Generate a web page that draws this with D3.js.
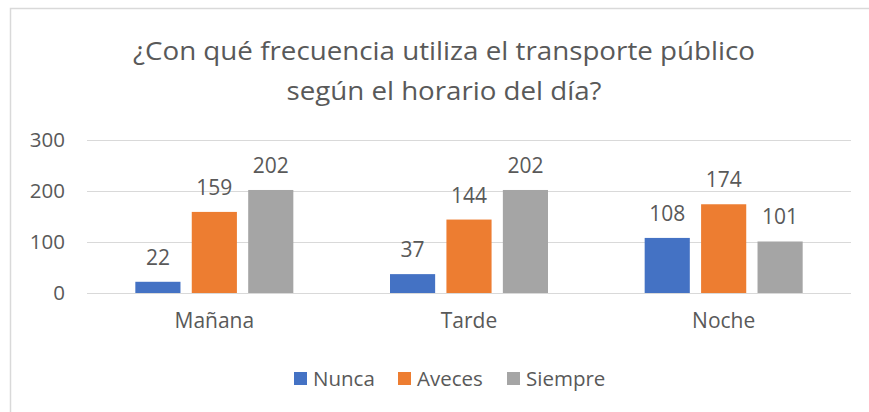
<!DOCTYPE html>
<html lang="es">
<head>
    <meta charset="UTF-8">
    <title>Frecuencia transporte público</title>
    <script src="https://cdn.jsdelivr.net/npm/d3@7"></script>
    <style>
        body {margin: 0; background: #fff;}
        text {font-family: "Open Sans", sans-serif; fill: #595959;}
    </style>
</head>
<body>
<div id="grafico"></div>
<script>
    // datos del gráfico
    const categorias = ["Mañana", "Tarde", "Noche"];
    const series = ["Nunca", "Aveces", "Siempre"];
    const nunca = [22, 37, 108];
    const aveces = [159, 144, 174];
    const siempre = [202, 202, 101];
    const ticksY = [0, 100, 200, 300];
    const titulo = ["¿Con qué frecuencia utiliza el transporte público", "según el horario del día?"];
    const colores = ["#4472C4", "#ED7D31", "#A5A5A5"];

    const valores = [nunca, aveces, siempre];

    let W = 869, H = 412;
    let margin = {top: 140, right: 18, bottom: 119, left: 87},
        width = W - margin.left - margin.right,
        height = H - margin.top - margin.bottom;

    let svg = d3.select("#grafico")
        .append("svg")
        .attr("width", W)
        .attr("height", H);

    // marco del gráfico
    svg.append("rect")
        .attr("x", 10.5).attr("y", 8.5)
        .attr("width", W + 20).attr("height", H + 20)
        .attr("fill", "none")
        .attr("stroke", "#D9D9D9")
        .attr("stroke-width", 1.5);

    // título (ancho ajustado al original)
    let anchoTitulo = [622, 315];
    svg.append("g").selectAll("text")
        .data(titulo)
        .join("text")
        .attr("x", 444)
        .attr("y", (d, i) => 60 + i * 40)
        .attr("text-anchor", "middle")
        .attr("font-size", 25.5)
        .attr("textLength", (d, i) => anchoTitulo[i])
        .attr("lengthAdjust", "spacingAndGlyphs")
        .text(d => d);

    let g = svg.append("g")
        .attr("transform", "translate(" + margin.left + "," + margin.top + ")");

    let x0 = d3.scaleBand()
        .domain(categorias)
        .range([0, width]);

    let x1 = d3.scaleBand()
        .domain(series)
        .range([0, 158])
        .paddingInner(0.2);

    let y = d3.scaleLinear()
        .domain([0, 300])
        .range([height, 0]);

    // líneas de cuadrícula
    g.append("g").selectAll("line")
        .data(ticksY)
        .join("line")
        .attr("x1", 0).attr("x2", width)
        .attr("y1", d => Math.round(y(d)) + 0.5)
        .attr("y2", d => Math.round(y(d)) + 0.5)
        .attr("stroke", "#D9D9D9")
        .attr("stroke-width", 1.2);

    // eje Y
    let ejeY = g.append("g")
        .call(d3.axisLeft(y).tickValues(ticksY).tickSize(0).tickPadding(22));
    ejeY.select(".domain").remove();
    ejeY.selectAll("text").attr("font-size", 20.5).attr("font-family", "'Open Sans', sans-serif").attr("fill", "#595959");

    // eje X
    let ejeX = g.append("g")
        .attr("transform", "translate(0," + height + ")")
        .call(d3.axisBottom(x0).tickSize(0).tickPadding(20));
    ejeX.select(".domain").remove();
    ejeX.selectAll("text").attr("font-size", 21).attr("font-family", "'Open Sans', sans-serif").attr("fill", "#595959");

    // barras
    let grupos = g.append("g").selectAll("g")
        .data(categorias)
        .join("g")
        .attr("transform", d => "translate(" + (x0(d) + x0.bandwidth() / 2 - 79) + ",0)");

    grupos.selectAll("rect")
        .data((c, i) => series.map((s, j) => ({serie: s, valor: valores[j][i], color: colores[j]})))
        .join("rect")
        .attr("x", d => x1(d.serie))
        .attr("y", d => y(d.valor))
        .attr("width", x1.bandwidth())
        .attr("height", d => height - y(d.valor))
        .attr("fill", d => d.color);

    grupos.selectAll("text.etiqueta")
        .data((c, i) => series.map((s, j) => ({serie: s, valor: valores[j][i]})))
        .join("text")
        .attr("class", "etiqueta")
        .attr("x", d => x1(d.serie) + x1.bandwidth() / 2)
        .attr("y", d => y(d.valor) - 17)
        .attr("text-anchor", "middle")
        .attr("font-size", 21)
        .text(d => d.valor);

    // leyenda
    let leyendaX = [294, 398, 507];
    let leyenda = svg.append("g").selectAll("g")
        .data(series)
        .join("g")
        .attr("transform", (d, i) => "translate(" + leyendaX[i] + ",372)");
    leyenda.append("rect")
        .attr("width", 13).attr("height", 13)
        .attr("fill", (d, i) => colores[i]);
    leyenda.append("text")
        .attr("x", 19).attr("y", 14)
        .attr("font-size", 20.5)
        .text(d => d);
</script>
</body>
</html>
